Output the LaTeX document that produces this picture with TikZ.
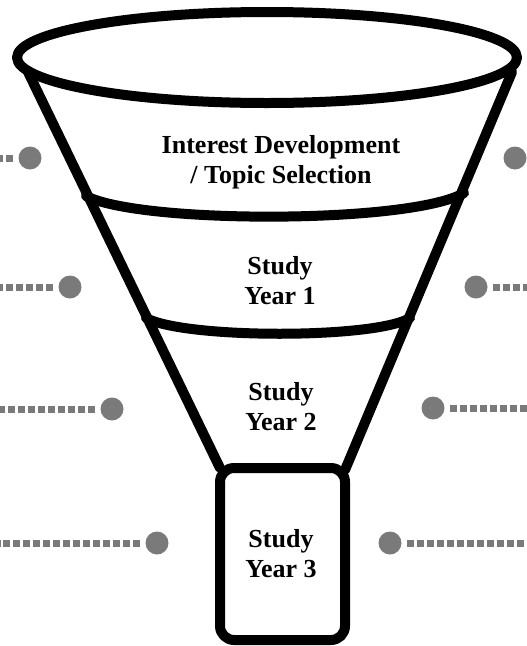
\documentclass[tikz,border=0pt]{standalone}
\usepackage{fontspec}
\setmainfont{Liberation Serif}
\usepackage{xcolor}
\definecolor{outline}{RGB}{0, 0, 0}
\definecolor{dotgray}{RGB}{122, 122, 122}
\usetikzlibrary{positioning,calc}

\begin{document}
\begin{tikzpicture}[
  x=1pt, y=-1pt,
  rim/.style={draw=outline, line width=10pt, line join=round, line cap=round},
  stage/.style={font=\fontsize{26}{30}\selectfont\bfseries, align=center, inner sep=0pt},
  marker/.style={circle, fill=dotgray, minimum size=23pt, inner sep=0pt},
  trail/.style={draw=dotgray, line width=7pt, dash pattern=on 7pt off 3pt, shorten <=5pt}
]
\useasboundingbox (0,0) rectangle (527,646);

\draw[rim] (28,72) -- (220,468);
\draw[rim] (512,72) -- (345,470);
\draw[rim] (86,196) .. controls (140,224) and (410,224) .. (464,193);
\draw[rim] (146,318) .. controls (185,339) and (375,339) .. (410,318);
\draw[rim, fill=white, rounded corners=14pt] (220,468) rectangle (345,640);
\draw[rim] (267,57.5) ellipse [x radius=250, y radius=45.5];

\node[stage] (s1) at (281,162.5) {Interest Development\\/ Topic Selection};
\node[stage] (s2) at (280,281) {Study\\Year 1};
\node[stage] (s3) at (281,407) {Study\\Year 2};
\node[stage] (s4) at (281,554) {Study\\Year 3};

\node[marker] (l1) at (30,158) {};
\node[marker] (l2) at (70,287) {};
\node[marker] (l3) at (112,409) {};
\node[marker] (l4) at (157,543) {};
\node[marker] (r1) at (515,158) {};
\node[marker] (r2) at (476,287) {};
\node[marker] (r3) at (433,408) {};
\node[marker] (r4) at (390,543) {};

\coordinate (el1) at (0,158);
\coordinate (el2) at (0,287);
\coordinate (el3) at (0,409);
\coordinate (el4) at (0,543);
\coordinate (er2) at (527,287);
\coordinate (er3) at (527,408);
\coordinate (er4) at (527,543);

\draw[trail] (l1) -- (el1);
\draw[trail] (l2) -- (el2);
\draw[trail] (l3) -- (el3);
\draw[trail] (l4) -- (el4);
\draw[trail] (r2) -- (er2);
\draw[trail] (r3) -- (er3);
\draw[trail] (r4) -- (er4);
\end{tikzpicture}
\end{document}
